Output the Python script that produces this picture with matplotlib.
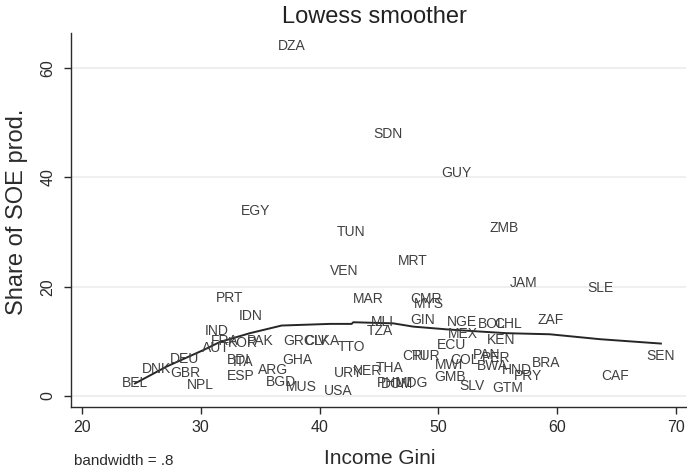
import matplotlib
matplotlib.use("Agg")
import matplotlib.pyplot as plt

plt.rcParams['font.family'] = ['Liberation Sans', 'DejaVu Sans']

# country codes, income Gini and share of SOE production
countries = ['DZA', 'SDN', 'GUY', 'EGY', 'TUN', 'ZMB', 'VEN', 'MRT', 'JAM', 'SLE',
             'PRT', 'MAR', 'CMR', 'MYS', 'IDN', 'MLI', 'TZA', 'GIN', 'NGE', 'BOL',
             'CHL', 'ZAF', 'IND', 'MEX', 'KEN', 'FRA', 'KOR', 'PAK', 'AUT', 'GRC',
             'CIV', 'LKA', 'TTO', 'ECU', 'DEU', 'BDI', 'ITA', 'GHA', 'CRI', 'TUR',
             'COL', 'PAN', 'PER', 'BRA', 'SEN', 'MWI', 'BWA', 'THA', 'NER', 'URY',
             'HND', 'PRY', 'DNK', 'GBR', 'ESP', 'ARG', 'GMB', 'CAF', 'BEL', 'NPL',
             'BGD', 'MUS', 'USA', 'SLV', 'GTM', 'PHL', 'DOM', 'MDG']
gini = [37.65, 45.78, 51.48, 34.65, 42.64, 55.55, 42.09, 47.82, 57.21, 63.64,
        32.42, 44.13, 48.93, 49.24, 34.23, 45.28, 45.06, 48.70, 52.03, 54.48,
        55.86, 59.44, 31.34, 52.03, 55.27, 32.02, 33.51, 34.98, 31.25, 38.25,
        39.70, 40.62, 42.71, 51.10, 28.64, 33.20, 33.55, 38.16, 48.00, 48.93,
        52.24, 54.09, 54.85, 59.06, 68.74, 50.89, 54.57, 45.90, 44.04, 42.47,
        56.58, 57.52, 26.23, 28.70, 33.35, 36.08, 51.01, 64.87, 24.46, 29.93,
        36.75, 38.47, 41.55, 52.87, 55.81, 45.93, 46.52, 47.75]
soe_share = [64.1, 47.9, 40.9, 33.8, 30.1, 30.7, 22.9, 24.8, 20.7, 19.8,
             17.9, 17.7, 17.7, 16.8, 14.6, 13.5, 11.9, 13.9, 13.5, 13.2,
             13.2, 13.9, 11.9, 11.3, 10.3, 10.1, 9.7, 10.1, 8.7, 10.1,
             10.1, 10.1, 9.0, 9.3, 6.8, 6.6, 6.2, 6.6, 7.3, 7.3,
             6.6, 7.5, 7.0, 6.0, 7.4, 5.6, 5.5, 5.2, 4.6, 4.3,
             4.8, 3.7, 4.9, 4.3, 3.7, 4.8, 3.5, 3.7, 2.3, 2.0,
             2.6, 1.7, 0.9, 1.9, 1.4, 2.4, 2.2, 2.4]

# lowess fit (bandwidth .8)
fit_gini = [24.46, 27.13, 30.21, 31.62, 34.14, 36.81, 40.88, 42.70, 42.84,
            46.20, 47.89, 50.70, 53.50, 55.75, 59.39, 63.60, 68.74]
fit_share = [2.3, 5.4, 8.4, 9.9, 11.5, 12.9, 13.2, 13.2, 13.5,
             13.3, 12.7, 12.2, 11.8, 11.5, 11.3, 10.4, 9.6]

fig = plt.figure(figsize=(6.87, 4.72), dpi=100)
ax = fig.add_axes([0.1033, 0.1377, 0.895, 0.792])

ink = '#2b2b2b'

for name, x, y in zip(countries, gini, soe_share):
    ax.text(x, y, name, ha='center', va='center', fontsize=10, color='#404040')

ax.plot(fit_gini, fit_share, color='#262626', lw=1.4)

ax.set_xlim(19.07, 70.84)
ax.set_ylim(-2.01, 66.4)
ax.set_xticks([20, 30, 40, 50, 60, 70])
ax.set_yticks([0, 20, 40, 60])
ax.yaxis.grid(True, color='#efefef', lw=1.5)
ax.set_axisbelow(True)

for side in ['top', 'right']:
    ax.spines[side].set_visible(False)
for side in ['left', 'bottom']:
    ax.spines[side].set_color(ink)
    ax.spines[side].set_linewidth(1.0)

ax.tick_params(axis='both', length=5, width=1, color=ink, labelcolor=ink, labelsize=11.5)
ax.tick_params(axis='x', pad=4)
ax.tick_params(axis='y', pad=6)
for lbl in ax.get_yticklabels():
    lbl.set_rotation(90)
    lbl.set_va('center')

fig.text(374 / 687, 1 - 17 / 472, 'Lowess smoother', ha='center', va='center',
         fontsize=17, color='#222222')
fig.text(380 / 687, 1 - 458 / 472, 'Income Gini', ha='center', va='center',
         fontsize=15, color=ink)
fig.text(17 / 687, 1 - 212 / 472, 'Share of SOE prod.', ha='center', va='center',
         rotation=90, fontsize=17, color=ink)
fig.text(74 / 687, 1 - 461 / 472, 'bandwidth = .8', ha='left', va='center',
         fontsize=11, color=ink)

fig.savefig('out.png', dpi=100)
